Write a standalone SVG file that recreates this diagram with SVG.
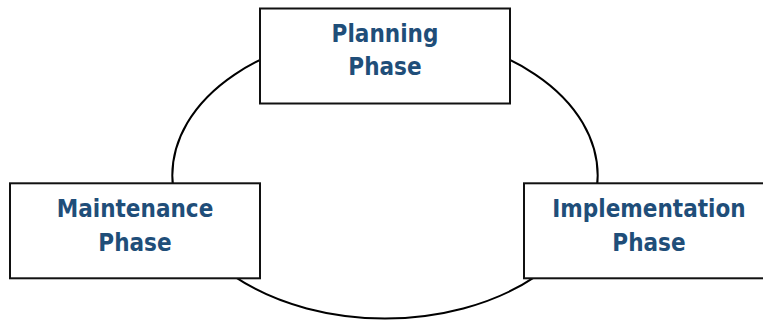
<svg xmlns="http://www.w3.org/2000/svg" width="763" height="320" viewBox="0 0 763 320">
<style>
.box{fill:#ffffff;stroke:#111111;stroke-width:2}
.lbl{font-family:"DejaVu Sans Condensed","DejaVu Sans",sans-serif;font-weight:bold;font-size:24px;fill:#1f4e79;text-anchor:middle}
.cyc{fill:none;stroke:#000000;stroke-width:2}
</style>
<rect width="763" height="320" fill="#ffffff"/>
<g id="connectors">
<ellipse class="cyc" cx="385" cy="175.6" rx="212.7" ry="142.9"/>
</g>
<g id="planning">
<rect class="box" x="260" y="8.5" width="250" height="95"/>
<text class="lbl" x="385" y="41.7">Planning</text>
<text class="lbl" x="385" y="75">Phase</text>
</g>
<g id="maintenance">
<rect class="box" x="10" y="183.3" width="250" height="95"/>
<text class="lbl" x="135" y="216.7">Maintenance</text>
<text class="lbl" x="135" y="250.7">Phase</text>
</g>
<g id="implementation">
<rect class="box" x="524" y="183.3" width="250" height="95"/>
<text class="lbl" x="649" y="216.7">Implementation</text>
<text class="lbl" x="649" y="250.7">Phase</text>
</g>
</svg>
